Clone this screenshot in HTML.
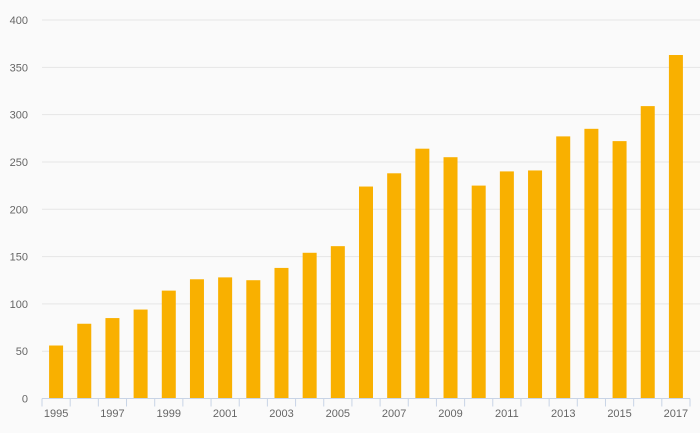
<!DOCTYPE html>
<html><head><meta charset="utf-8"><style>
html,body{margin:0;padding:0;background:#fafafa;}
svg{display:block;font-family:"Liberation Sans",sans-serif;}
</style></head><body>
<svg id="chart" width="700" height="433" viewBox="0 0 700 433"></svg>
<script>
const categories=["1995","1996","1997","1998","1999","2000","2001","2002","2003","2004","2005","2006","2007","2008","2009","2010","2011","2012","2013","2014","2015","2016","2017"];
const values=[56,79,85,94,114,126,128,125,138,154,161,224,238,264,255,225,240,241,277,285,272,309,363];
const yTicks=[0,50,100,150,200,250,300,350,400];
const svg=document.getElementById('chart');
const NS='http://www.w3.org/2000/svg';
const L=42,R=690,T=20,B=398.5;
const band=(R-L)/categories.length;
const y=v=>B-(v/400)*(B-T);
const x=i=>L+i*band;
function mk(tag,attrs){const e=document.createElementNS(NS,tag);for(const k in attrs)e.setAttribute(k,attrs[k]);svg.appendChild(e);return e;}
yTicks.forEach(t=>{
  if(t>0){const g=mk('line',{x1:L,x2:R+10,y1:y(t),y2:y(t),stroke:'#e6e6e6','stroke-width':1});
  
  }
  const tx=mk('text',{x:28,y:y(t)+4,'text-anchor':'end','font-size':11,fill:'#666'});
  tx.textContent=t;
  
  
});
values.forEach((v,i)=>{
  const r=mk('rect',{x:x(i)+band/2-7,y:y(v),width:14,height:B-y(v),fill:'#f9b000'});
  
  
});
const ax=mk('line',{x1:L,x2:R,y1:B,y2:B,stroke:'#c8d4e6','stroke-width':1});


categories.forEach((c,i)=>{
  const tk=mk('line',{x1:x(i),x2:x(i),y1:B,y2:B+8,stroke:'#c8d4e6','stroke-width':1});
  
  
  if(i%2===0){
    const tx=mk('text',{x:x(i)+band/2,y:417,'text-anchor':'middle','font-size':11,fill:'#666'});
    tx.textContent=c;
    
    
  }
});
const tkEnd=mk('line',{x1:R,x2:R,y1:B,y2:B+8,stroke:'#c8d4e6','stroke-width':1});


</script>
</body></html>
